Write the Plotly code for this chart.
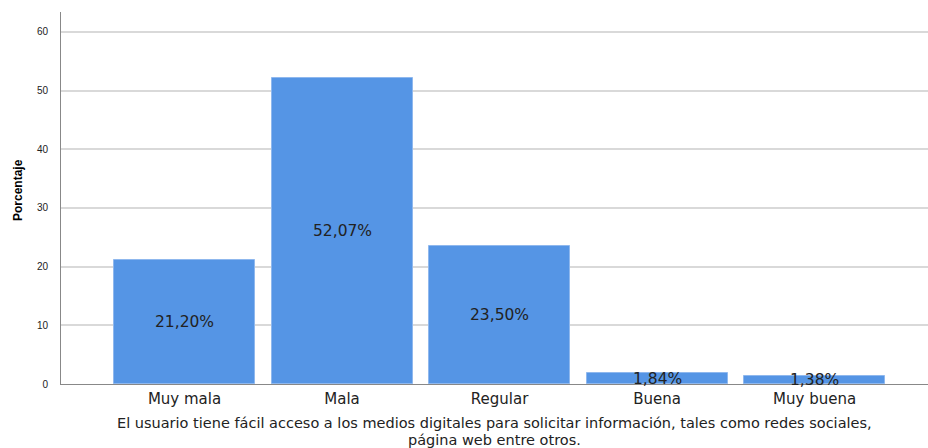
import plotly.graph_objects as go

# Survey responses (percentage of users)
categorias = ["Muy mala", "Mala", "Regular", "Buena", "Muy buena"]
porcentajes = [21.20, 52.07, 23.50, 1.84, 1.38]
y_ticks = [0, 10, 20, 30, 40, 50, 60]

titulo_x_1 = "El usuario tiene fácil acceso a los medios digitales para solicitar información, tales como redes sociales,"
titulo_x_2 = "página web entre otros."

BAR = "#5595e5"
TEXT = "#222222"
WIDE = "DejaVu Sans, Liberation Sans, Arial, sans-serif"
ARIAL = "Liberation Sans, Arial, sans-serif"

xs = list(range(len(categorias)))

fig = go.Figure()
fig.add_trace(go.Bar(
    x=xs,
    y=porcentajes,
    width=0.895,
    marker=dict(color=BAR, line=dict(color="#8fb8ee", width=1)),
    hoverinfo="skip",
))

# Value labels centred inside each bar
for xi, v in zip(xs, porcentajes):
    fig.add_annotation(
        x=xi, y=v / 2, xref="x", yref="y",
        text=f"{v:.2f}%".replace(".", ","),
        showarrow=False, xanchor="center", yanchor="middle",
        font=dict(family=WIDE, size=15.5, color=TEXT),
    )

# Axis titles
fig.add_annotation(
    x=0, y=0.5215, xref="paper", yref="paper",
    xanchor="center", yanchor="middle",
    xshift=-43, textangle=-90, showarrow=False,
    text="<b>Porcentaje</b>",
    font=dict(family=ARIAL, size=12, color="#000000"),
)
fig.add_annotation(
    x=0.5, y=0, xref="paper", yref="paper",
    xanchor="center", yanchor="middle",
    yshift=-39, showarrow=False, text=titulo_x_1,
    font=dict(family=WIDE, size=14.5, color=TEXT),
)
fig.add_annotation(
    x=0.5, y=0, xref="paper", yref="paper",
    xanchor="center", yanchor="middle",
    yshift=-56, showarrow=False, text=titulo_x_2,
    font=dict(family=WIDE, size=14.5, color=TEXT),
)

fig.update_layout(
    width=928, height=448,
    margin=dict(l=61, r=0, t=12, b=64),
    paper_bgcolor="white",
    plot_bgcolor="white",
    showlegend=False,
    bargap=0,
)
fig.update_xaxes(
    range=[-0.784, 4.72],
    tickmode="array", tickvals=xs, ticktext=categorias,
    tickfont=dict(family=WIDE, size=15, color=TEXT),
    showline=True, linecolor="#888888", linewidth=1,
    showgrid=False, zeroline=False,
    ticks="", ticklabelstandoff=1,
)
fig.update_yaxes(
    range=[0, 63.4],
    tickmode="array", tickvals=y_ticks,
    tickfont=dict(family=ARIAL, size=10, color=TEXT),
    showline=True, linecolor="#888888", linewidth=1,
    showgrid=True, gridcolor="#d9d9d9", gridwidth=1.5,
    zeroline=False, ticks="", ticklabelstandoff=10,
)

fig.write_html("out.html")
